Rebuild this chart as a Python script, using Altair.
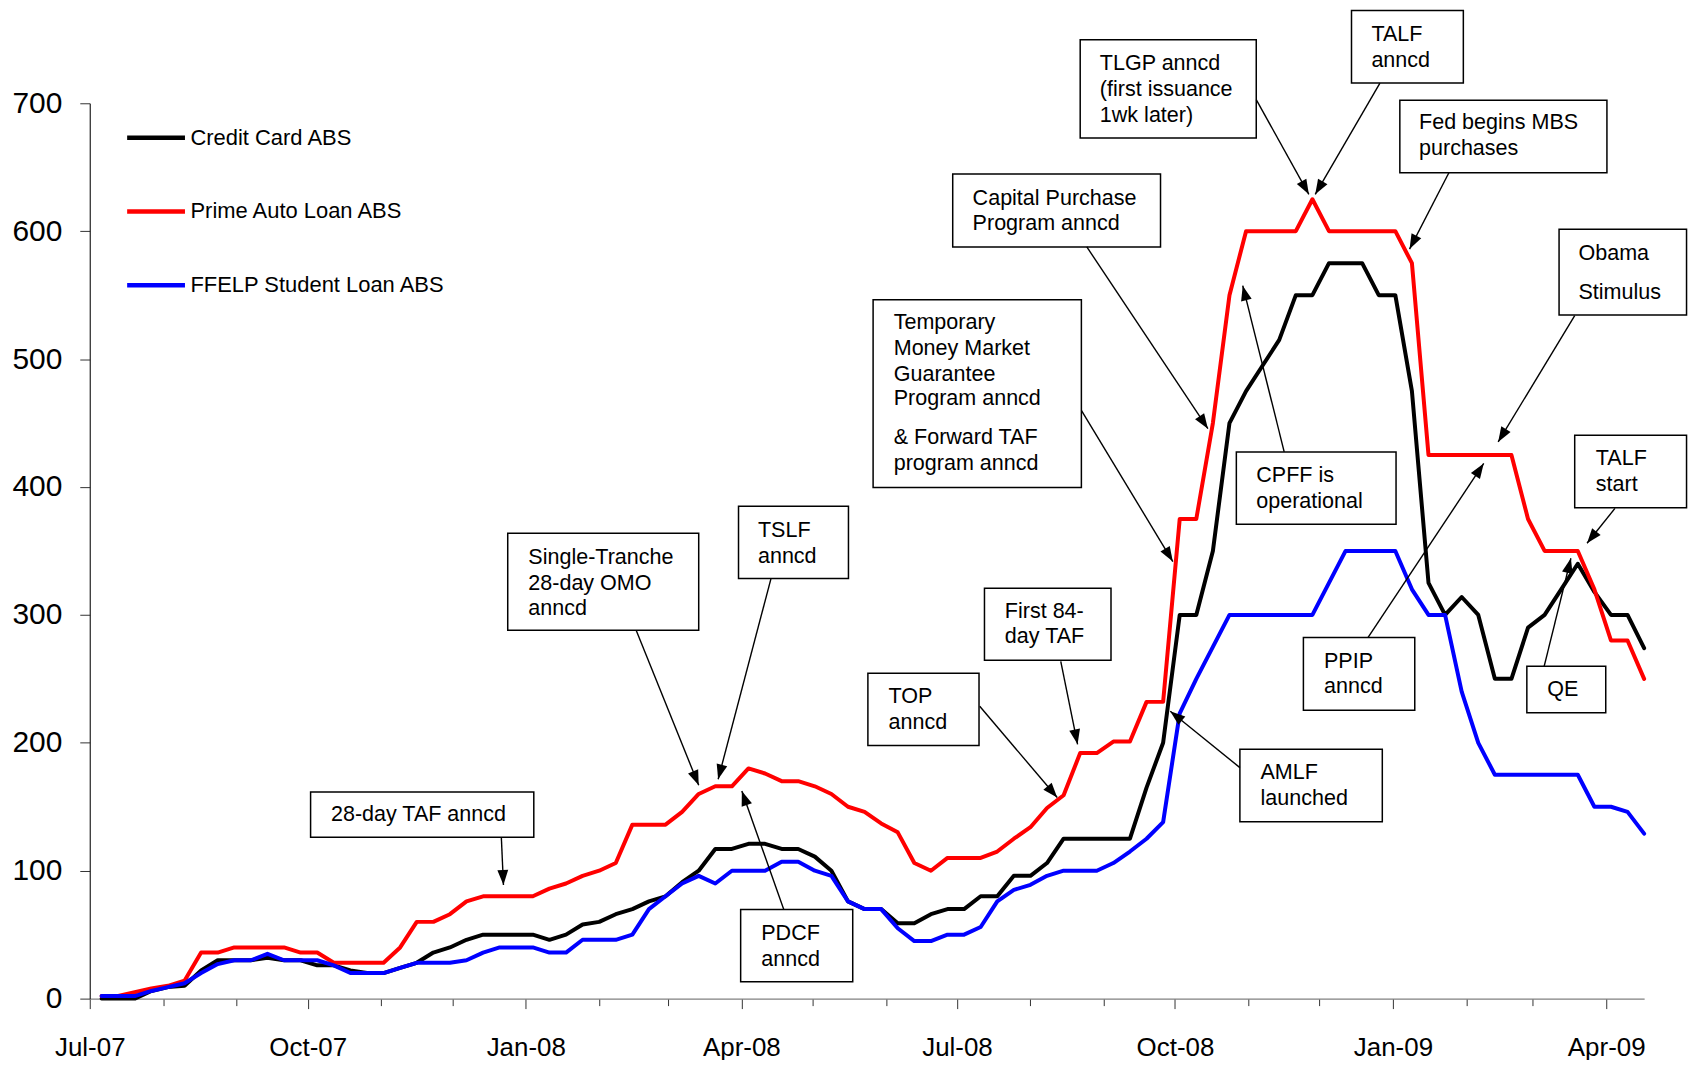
import math
import altair as alt
import pandas as pd

# ---------------- data (weekly spreads, bp) ----------------
START_DATE = "2007-07-01"
FIRST_OBS = "2007-07-06"
END_DATE = "2009-04-17"

SERIES = ["Credit Card ABS", "Prime Auto Loan ABS", "FFELP Student Loan ABS"]
SERIES_COLORS = ["#000000", "#ff0000", "#0000ff"]

credit_card_abs = [0, 0, 0, 6, 9, 10, 22, 30, 30, 30,
                   32, 30, 30, 26, 26, 22, 20, 20, 24, 28,
                   36, 40, 46, 50, 50, 50, 50, 46, 50, 58,
                   60, 66, 70, 76, 80, 91, 100, 117, 117, 121,
                   121, 117, 117, 111, 100, 76, 70, 70, 59, 59,
                   66, 70, 70, 80, 80, 96, 96, 106, 125, 125,
                   125, 125, 125, 165, 200, 300, 300, 350, 450, 475,
                   495, 515, 550, 550, 575, 575, 575, 550, 550, 475,
                   325, 300, 314, 300, 250, 250, 290, 300, 320, 340,
                   318, 300, 300, 274]

prime_auto_loan_abs = [2, 2, 5, 8, 10, 14, 36, 36, 40, 40,
                       40, 40, 36, 36, 28, 28, 28, 28, 40, 60,
                       60, 66, 76, 80, 80, 80, 80, 86, 90, 96,
                       100, 106, 136, 136, 136, 146, 160, 166, 166, 180,
                       176, 170, 170, 166, 160, 150, 146, 137, 130, 106,
                       100, 110, 110, 110, 115, 125, 134, 149, 159, 192,
                       192, 201, 201, 232, 232, 375, 375, 450, 550, 600,
                       600, 600, 600, 625, 600, 600, 600, 600, 600, 575,
                       425, 425, 425, 425, 425, 425, 375, 350, 350, 350,
                       320, 280, 280, 250]

ffelp_student_loan_abs = [2, 2, 2, 6, 9, 12, 20, 27, 30, 30,
                          35, 30, 30, 30, 26, 20, 20, 20, 24, 28,
                          28, 28, 30, 36, 40, 40, 40, 36, 36, 46,
                          46, 46, 50, 70, 80, 90, 96, 90, 100, 100,
                          100, 107, 107, 100, 96, 76, 70, 70, 55, 45,
                          45, 50, 50, 56, 76, 85, 89, 96, 100, 100,
                          100, 106, 115, 125, 138, 223, 250, 275, 300, 300,
                          300, 300, 300, 300, 325, 350, 350, 350, 350, 320,
                          300, 300, 240, 200, 175, 175, 175, 175, 175, 175,
                          150, 150, 146, 129]

Y_TICKS = [0, 100, 200, 300, 400, 500, 600, 700]

# ---------------- annotations (x in days since START_DATE, y in bp) ----------------
# boxes: (x_left, x_right, y_top, y_bottom)
boxes = [
    (93.2, 187.4, 161.5, 126.2),    # 28-day TAF
    (176.4, 257.0, 363.9, 288.0),   # Single-Tranche
    (273.8, 320.2, 384.9, 328.4),   # TSLF
    (274.7, 322.0, 69.6, 13.1),     # PDCF
    (328.4, 375.3, 254.3, 197.8),   # TOP
    (377.6, 431.0, 320.9, 264.5),   # First 84-day TAF
    (330.6, 418.5, 546.4, 399.7),   # Temporary MMF guarantee
    (364.2, 451.9, 644.7, 587.7),   # Capital Purchase
    (418.0, 492.3, 749.6, 672.9),   # TLGP
    (532.5, 579.7, 772.5, 715.8),   # TALF anncd
    (552.9, 640.3, 702.3, 645.7),   # Fed MBS
    (620.1, 673.9, 601.5, 534.5),   # Obama
    (483.9, 551.3, 427.4, 370.8),   # CPFF
    (512.2, 559.2, 282.4, 225.5),   # PPIP
    (626.7, 673.9, 440.4, 383.8),   # TALF start
    (606.5, 639.8, 259.8, 223.5),   # QE
    (485.4, 545.5, 194.9, 138.2),   # AMLF
]

# text lines: (x_left, y_center, text)
texts = [
    (101.8, 143.8, "28-day TAF anncd"),
    (185.1, 344.5, "Single-Tranche"), (185.1, 324.2, "28-day OMO"), (185.1, 304.9, "anncd"),
    (282.0, 365.6, "TSLF"), (282.0, 345.3, "anncd"),
    (283.4, 50.2, "PDCF"), (283.4, 30.0, "anncd"),
    (337.1, 235.7, "TOP"), (337.1, 215.5, "anncd"),
    (386.2, 302.3, "First 84-"), (386.2, 282.9, "day TAF"),
    (339.3, 528.3, "Temporary"), (339.3, 508.0, "Money Market"), (339.3, 487.8, "Guarantee"),
    (339.3, 468.4, "Program anncd"), (339.3, 438.1, "& Forward TAF"), (339.3, 417.8, "program anncd"),
    (372.6, 625.2, "Capital Purchase"), (372.6, 605.8, "Program anncd"),
    (426.3, 730.6, "TLGP anncd"), (426.3, 710.4, "(first issuance"), (426.3, 690.2, "1wk later)"),
    (540.9, 753.4, "TALF"), (540.9, 733.1, "anncd"),
    (561.0, 684.2, "Fed begins MBS"), (561.0, 664.0, "purchases"),
    (628.3, 582.2, "Obama"), (628.3, 551.9, "Stimulus"),
    (492.3, 408.5, "CPFF is"), (492.3, 388.3, "operational"),
    (520.9, 263.5, "PPIP"), (520.9, 243.3, "anncd"),
    (635.6, 422.0, "TALF"), (635.6, 401.8, "start"),
    (615.1, 241.6, "QE"),
    (494.1, 176.7, "AMLF"), (494.1, 156.4, "launched"),
]

# arrows: (x_from, y_from, x_to, y_to)
arrows = [
    (173.7, 126.2, 174.6, 88.9),
    (230.6, 288.0, 257.0, 166.8),
    (287.5, 328.4, 265.2, 171.5),
    (292.9, 69.6, 275.2, 162.4),
    (375.6, 228.6, 408.3, 157.2),
    (409.8, 263.7, 416.9, 198.8),
    (418.5, 459.9, 457.1, 341.7),
    (420.8, 587.7, 471.9, 445.6),
    (492.3, 702.9, 514.5, 628.8),
    (544.5, 715.8, 517.2, 628.8),
    (573.6, 645.7, 557.0, 586.0),
    (626.7, 534.0, 594.4, 435.2),
    (504.1, 427.4, 486.6, 557.4),
    (539.5, 282.4, 588.3, 418.4),
    (643.7, 383.3, 631.9, 356.0),
    (613.8, 259.8, 625.1, 344.3),
    (485.4, 180.6, 456.0, 224.7),
]

# ---------------- layout / style ----------------
W, H = 1559, 898
FONT = "Liberation Sans, Arial, sans-serif"
HEAD = "M0,0L-0.4,1.1L0.4,1.1Z"

start = pd.Timestamp(START_DATE)
obs_dates = pd.date_range(FIRST_OBS, periods=len(credit_card_abs), freq="7D")
obs_days = [(d - start).days for d in obs_dates]
x_max = (pd.Timestamp(END_DATE) - start).days
y_max = Y_TICKS[-1]

rows = []
for name, vals in zip(SERIES, [credit_card_abs, prime_auto_loan_abs, ffelp_student_loan_abs]):
    for d, v in zip(obs_days, vals):
        rows.append({"series": name, "day": d, "value": v})
df = pd.DataFrame(rows)

month_starts = pd.date_range(START_DATE, END_DATE, freq="MS")
month_days = [(m - start).days for m in month_starts]
q_days = [(m - start).days for m in month_starts if m.month in (1, 4, 7, 10)]
q_labels = [m.strftime("%b-%y") for m in month_starts if m.month in (1, 4, 7, 10)]
label_expr = (f"indexof({q_days}, datum.value) >= 0 ? "
              f"{q_labels}[indexof({q_days}, datum.value)] : ''")

x_scale = alt.Scale(domain=[0, x_max], nice=False, zero=False)
y_scale = alt.Scale(domain=[0, y_max], nice=False)

lines = alt.Chart(df).mark_line(strokeWidth=4, strokeCap="round", strokeJoin="round").encode(
    x=alt.X("day:Q", scale=x_scale, title=None,
            axis=alt.Axis(values=month_days, labelExpr=label_expr, grid=False,
                          tickSize={"condition": {"test": f"indexof({q_days}, datum.value) >= 0", "value": 10}, "value": 7},
                          tickColor="#333333", tickWidth=1, domainColor="#808080", domainWidth=1.2,
                          labelFont=FONT, labelFontSize=26, labelColor="black",
                          labelPadding=26, labelAngle=0, labelFlush=False, labelOverlap=False)),
    y=alt.Y("value:Q", scale=y_scale, title=None,
            axis=alt.Axis(values=Y_TICKS, grid=False, tickSize=10, tickColor="#333333",
                          domainColor="#222222", domainWidth=1.2,
                          labelFont=FONT, labelFontSize=30, labelColor="black",
                          labelPadding=18)),
    color=alt.Color("series:N", scale=alt.Scale(domain=SERIES, range=SERIES_COLORS),
                    legend=alt.Legend(orient="none", legendX=35, legendY=3, title=None,
                                      direction="vertical",
                                      symbolType="stroke", symbolSize=3364, symbolStrokeWidth=4.5,
                                      labelFont=FONT, labelFontSize=22, labelColor="black",
                                      rowPadding=31, labelOffset=3, padding=0, labelLimit=0)),
)

boxes_df = pd.DataFrame(boxes, columns=["x1", "x2", "y1", "y2"])
texts_df = pd.DataFrame(texts, columns=["x", "y", "label"])
arrows_df = pd.DataFrame(arrows, columns=["x1", "y1", "x2", "y2"])
px_day = W / x_max
px_unit = H / y_max
arrows_df["angle"] = [
    math.degrees(math.atan2((r.x2 - r.x1) * px_day, (r.y2 - r.y1) * px_unit)) % 360
    for r in arrows_df.itertuples()
]

box_layer = alt.Chart(boxes_df).mark_rect(fill="white", stroke="black", strokeWidth=1.5).encode(
    x=alt.X("x1:Q", scale=x_scale, title=None), x2="x2:Q",
    y=alt.Y("y1:Q", scale=y_scale, title=None), y2="y2:Q",
)

text_layer = alt.Chart(texts_df).mark_text(align="left", baseline="middle", font=FONT,
                                           fontSize=21.6, color="black").encode(
    x=alt.X("x:Q", scale=x_scale, title=None),
    y=alt.Y("y:Q", scale=y_scale, title=None),
    text="label:N",
)

shaft_layer = alt.Chart(arrows_df).mark_rule(color="black", strokeWidth=1.4).encode(
    x=alt.X("x1:Q", scale=x_scale, title=None), x2="x2:Q",
    y=alt.Y("y1:Q", scale=y_scale, title=None), y2="y2:Q",
)

head_layer = alt.Chart(arrows_df).mark_point(shape=HEAD, filled=True, size=744, color="black",
                                             opacity=1, strokeWidth=0).encode(
    x=alt.X("x2:Q", scale=x_scale, title=None),
    y=alt.Y("y2:Q", scale=y_scale, title=None),
    angle=alt.Angle("angle:Q", scale=None),
)

chart = alt.layer(lines, box_layer, text_layer, shaft_layer, head_layer).properties(
    width=W, height=H,
    padding={"left": 82, "top": 94, "right": 44, "bottom": 60},
    autosize=alt.AutoSizeParams(type="none"),
).configure(background="white").configure_view(stroke=None).configure_axis(grid=False)

chart.save("out.html", embed_options={"renderer": "svg", "actions": False})
